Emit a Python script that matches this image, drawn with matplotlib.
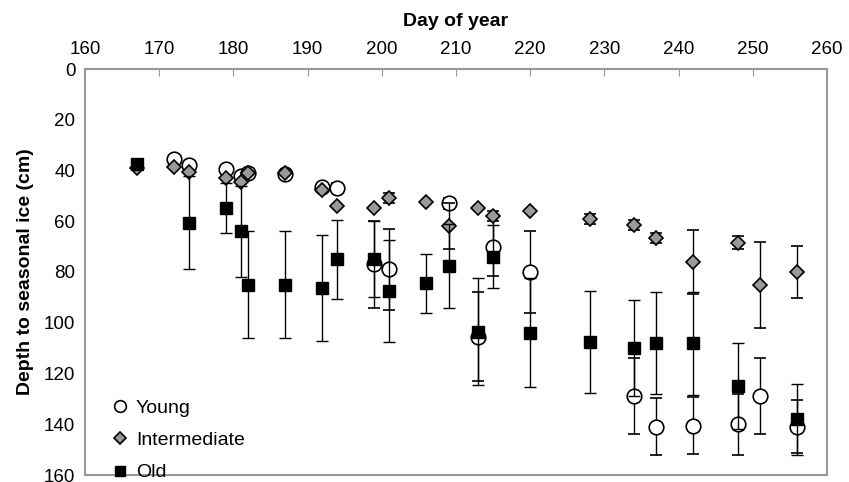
import numpy as np
import matplotlib.pyplot as plt

plt.rcParams['font.family'] = ['Liberation Sans', 'DejaVu Sans']

# day of year / depth (cm) / error (cm)
young_day = [172, 174, 179, 181, 182, 187, 192, 194, 199, 201, 209, 213, 215, 220, 234, 237, 242, 248, 251, 256]
young_depth = [35.5, 38, 39.5, 42, 41, 41.5, 46.5, 47, 77, 79, 53, 105.5, 70, 80, 129, 141, 140.5, 140, 129, 141]
young_err = [0, 0, 0, 0, 0, 0, 0, 2, 17, 16, 2, 17.5, 11.5, 16, 15, 11.3, 11.3, 12, 15, 10.5]

inter_day = [167, 172, 174, 179, 181, 182, 187, 192, 194, 199, 201, 206, 209, 213, 215, 220, 228, 234, 237, 242, 248, 251, 256]
inter_depth = [39, 38.6, 40.6, 43, 44.5, 41, 41, 47.6, 54, 54.8, 51, 52.3, 62, 54.8, 58, 56, 59, 61.5, 66.5, 76, 68.5, 85, 80]
inter_err = [0, 0, 0, 0, 0, 0, 0, 0, 0, 0, 2, 0, 9, 0, 2, 0, 2, 2, 2, 12.5, 2.5, 17, 10.3]

old_day = [167, 174, 179, 181, 182, 187, 192, 194, 199, 201, 206, 209, 213, 215, 220, 228, 234, 237, 242, 248, 256]
old_depth = [37.5, 60.5, 54.8, 64, 85, 85, 86.3, 75, 75, 87.5, 84.5, 77.5, 103.5, 74, 104, 107.5, 110, 108, 108, 125, 138]
old_err = [0, 18.3, 9.7, 17.8, 21, 21, 21, 15.5, 15, 20, 11.5, 16.5, 21, 12.5, 21.5, 20, 19, 20, 20.3, 17, 14]

fig = plt.figure(figsize=(8.49, 4.82), dpi=100)
ax = fig.add_axes([85/849, 1 - 475/482, 742/849, 406/482])

ebkw = dict(ecolor='black', elinewidth=1, capsize=4.5, capthick=1, linestyle='none')
ax.errorbar(young_day, young_depth, yerr=young_err, marker='o', ms=10.5,
            mfc='white', mec='black', mew=1.2, zorder=2, label='Young', **ebkw)
ax.errorbar(inter_day, inter_depth, yerr=inter_err, marker='D', ms=7.5,
            mfc='#999999', mec='black', mew=1.2, zorder=3, label='Intermediate', **ebkw)
ax.errorbar(old_day, old_depth, yerr=old_err, marker='s', ms=9,
            mfc='black', mec='black', mew=1, zorder=4, label='Old', **ebkw)

ax.set_xlim(160, 260)
ax.set_ylim(160, 0)
ax.set_xticks(np.arange(160, 261, 10))
ax.set_yticks(np.arange(0, 161, 20))
ax.xaxis.tick_top()
ax.xaxis.set_label_position('top')
ax.tick_params(axis='both', direction='in', length=5, color='#999999', labelsize=13.5)
ax.tick_params(axis='x', pad=8)
ax.tick_params(axis='y', length=0, pad=7)
for s in ax.spines.values():
    s.set_color('#999999')
    s.set_linewidth(1.5)

ax.set_xlabel('Day of year', fontsize=14, fontweight='bold', labelpad=11)
ax.set_ylabel('Depth to seasonal ice (cm)', fontsize=14, fontweight='bold', labelpad=7)

handles, labels = ax.get_legend_handles_labels()
handles = [h[0] for h in handles]
ax.legend(handles, labels, loc='lower left', bbox_to_anchor=(0.02, -0.035),
          frameon=False, fontsize=14, handletextpad=0.15, handlelength=1.3,
          labelspacing=0.75, borderaxespad=0.0, markerscale=0.8)

fig.savefig('out.png', dpi=100)
